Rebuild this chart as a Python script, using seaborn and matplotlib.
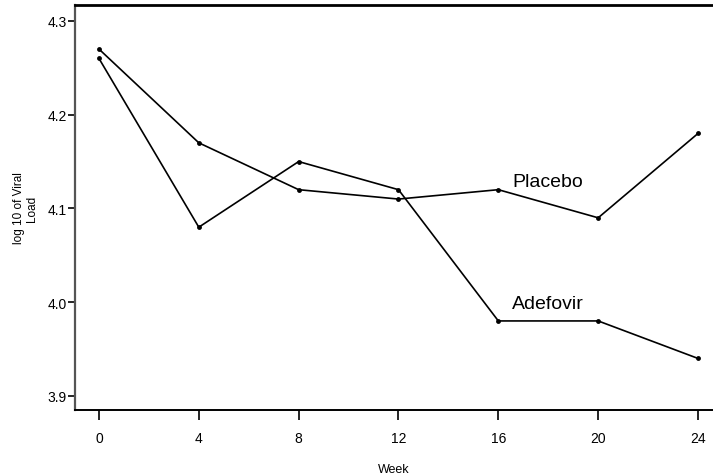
import matplotlib
matplotlib.use("Agg")
import matplotlib.pyplot as plt
import seaborn as sns
import pandas as pd

weeks = [0, 4, 8, 12, 16, 20, 24]
placebo = [4.27, 4.17, 4.12, 4.11, 4.12, 4.09, 4.18]
adefovir = [4.26, 4.08, 4.15, 4.12, 3.98, 3.98, 3.94]
groups = ["Placebo", "Adefovir"]
y_ticks = [3.9, 4.0, 4.1, 4.2, 4.3]

df = pd.DataFrame({
    "Week": weeks * 2,
    "Load": placebo + adefovir,
    "Group": [groups[0]] * len(weeks) + [groups[1]] * len(weeks),
})

sns.set_style("white")
plt.rcParams["font.family"] = ["Liberation Sans", "DejaVu Sans"]
plt.rcParams["text.color"] = "black"
plt.rcParams["axes.labelcolor"] = "black"
plt.rcParams["xtick.color"] = "black"
plt.rcParams["ytick.color"] = "black"

fig = plt.figure(figsize=(7.13, 4.77), dpi=100)
ax = fig.add_axes([75 / 713, 66 / 477, 638 / 713, 405 / 477])

sns.lineplot(data=df, x="Week", y="Load", hue="Group", palette=["black", "black"],
             marker="o", markersize=3.5, markeredgewidth=0, linewidth=1.2,
             legend=False, ax=ax, estimator=None, sort=False)

ax.set_xlim(-0.96, 24.6)
ax.set_ylim(3.885, 4.317)
ax.set_xticks(weeks)
ax.set_yticks(y_ticks)
ax.set_yticklabels([f"{v:.1f}" for v in y_ticks])

ax.spines["left"].set_color("#555555")
ax.spines["left"].set_linewidth(1.6)
ax.spines["top"].set_color("black")
ax.spines["top"].set_linewidth(2.0)
ax.spines["bottom"].set_color("black")
ax.spines["bottom"].set_linewidth(1.4)
ax.spines["right"].set_visible(False)

ax.tick_params(axis="y", direction="out", length=5, width=1.2, colors="black",
               labelsize=10, pad=1, left=True)
ax.tick_params(axis="x", direction="out", length=7, width=1.2, colors="black",
               labelsize=10, pad=8, bottom=True)

ax.set_xlabel("Week", fontsize=9, color="black")
ax.xaxis.set_label_coords(0.5, -0.13)
ax.set_ylabel("log 10 of Viral\nLoad", fontsize=8.5, linespacing=1.1, color="black")
ax.yaxis.set_label_coords(-0.058, 0.5)

ax.text(16.55, 4.129, groups[0], fontsize=14, va="center", ha="left", color="black")
ax.text(16.55, 3.999, groups[1], fontsize=14, va="center", ha="left", color="black")

fig.savefig("out.png", dpi=100)
